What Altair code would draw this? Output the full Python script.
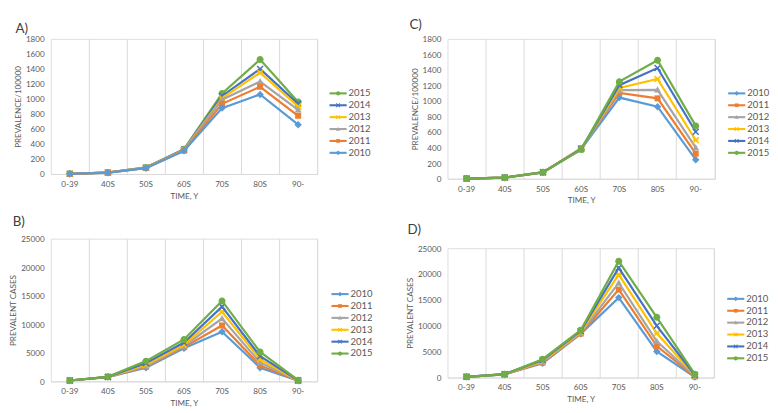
import altair as alt
import pandas as pd

cats = ["0-39", "40S", "50S", "60S", "70S", "80S", "90-"]
years = ["2010", "2011", "2012", "2013", "2014", "2015"]
colors = ["#5B9BD5", "#ED7D31", "#A5A5A5", "#FFC000", "#4472C4", "#70AD47"]

# Panel A: prevalence per 100000
a_2010 = [2, 18, 78, 308, 878, 1060, 657]
a_2011 = [2, 18, 80, 312, 935, 1162, 776]
a_2012 = [2, 19, 82, 316, 990, 1232, 855]
a_2013 = [2, 19, 84, 320, 1010, 1350, 900]
a_2014 = [2, 20, 86, 325, 1040, 1400, 935]
a_2015 = [2, 20, 88, 330, 1072, 1525, 960]

# Panel C: prevalence per 100000
c_2010 = [2, 14, 80, 380, 1045, 928, 245]
c_2011 = [2, 14, 82, 395, 1105, 1035, 322]
c_2012 = [2, 15, 82, 388, 1140, 1145, 400]
c_2013 = [2, 15, 83, 385, 1170, 1285, 495]
c_2014 = [2, 15, 84, 380, 1205, 1425, 605]
c_2015 = [2, 15, 85, 375, 1250, 1525, 680]

# Panel B: prevalent cases
b_2010 = [150, 750, 2400, 5800, 8700, 2400, 100]
b_2011 = [150, 760, 2550, 6000, 9800, 2800, 120]
b_2012 = [150, 770, 2700, 6200, 11000, 3300, 140]
b_2013 = [150, 780, 2900, 6400, 12200, 3850, 160]
b_2014 = [150, 790, 3200, 6800, 13100, 4400, 180]
b_2015 = [150, 800, 3550, 7350, 14100, 5150, 200]

# Panel D: prevalent cases
d_2010 = [150, 600, 2750, 8450, 15450, 5050, 100]
d_2011 = [150, 620, 2900, 8500, 17000, 6100, 200]
d_2012 = [150, 630, 3050, 8600, 18300, 7000, 300]
d_2013 = [150, 640, 3200, 8800, 19900, 8550, 400]
d_2014 = [150, 650, 3400, 9000, 21200, 10000, 500]
d_2015 = [150, 660, 3550, 9150, 22500, 11650, 650]

# marker shapes (unit square paths)
CIRCLE = "M-0.7,0A0.7,0.7 0 1 1 0.7,0A0.7,0.7 0 1 1 -0.7,0Z"
DIAMOND = "M0,-0.75L0.75,0L0,0.75L-0.75,0Z"
SQUARE = "M-0.6,-0.6H0.6V0.6H-0.6Z"
TRIANGLE = "M0,-0.7L0.7,0.55H-0.7Z"
XMARK = ("M-0.494,-0.706L0.706,0.494L0.494,0.706L-0.706,-0.494Z"
         "M0.706,-0.494L-0.494,0.706L-0.706,0.494L0.494,-0.706Z")
STAR = XMARK + "M-0.6,-0.1H0.6V0.1H-0.6Z"
markers = [DIAMOND, SQUARE, TRIANGLE, STAR, XMARK, CIRCLE]

FONT = "Lato"
GRAY = "#595959"


def make_df(series):
    rows = []
    for yr, vals in zip(years, series):
        for c, v in zip(cats, vals):
            rows.append({"age": c, "year": yr, "value": v})
    return pd.DataFrame(rows)


def panel(series, label, ytitle, ymax, ystep, reverse, w, h, lx, ly, legx, legy0):
    df = make_df(series)
    base = alt.Chart(df)
    xscale = alt.Scale(type="band", domain=cats, paddingInner=0, paddingOuter=0)
    yenc = alt.Y(
        "value:Q",
        scale=alt.Scale(domain=[0, ymax], nice=False, zero=True),
        axis=alt.Axis(
            values=list(range(0, ymax + 1, ystep)), format="d", grid=False, domain=False,
            ticks=False, labelFont=FONT, labelFontSize=8.5, labelColor=GRAY, labelPadding=7,
            title=ytitle, titleFont=FONT, titleFontSize=8.5, titleFontWeight="normal",
            titleColor=GRAY, titlePadding=3,
        ),
    )
    grid_axis = alt.Axis(
        orient="bottom", bandPosition=1, labels=False, ticks=False, domain=True,
        domainColor="#D9D9D9", grid=True, gridColor="#D9D9D9", gridWidth=1, title=None,
    )
    label_axis = alt.Axis(
        orient="bottom", bandPosition=0.5, labels=True, ticks=False, domain=False, grid=False,
        labelFont=FONT, labelFontSize=8.5, labelColor=GRAY, labelPadding=6, labelAngle=0,
        title="TIME, Y", titleFont=FONT, titleFontSize=8.5, titleFontWeight="normal",
        titleColor=GRAY, titlePadding=4,
    )
    order = list(range(len(years)))
    draw_order = order[::-1] if reverse else order
    layers = []
    first = True
    for i in draw_order:
        yr = years[i]
        sub = base.transform_filter(alt.datum.year == yr)
        xl = alt.X("age:N", scale=xscale, bandPosition=0.5, axis=grid_axis if first else None)
        xp = alt.X("age:N", scale=xscale, bandPosition=0.5, axis=label_axis if first else None)
        layers.append(sub.mark_line(color=colors[i], strokeWidth=2.3).encode(x=xl, y=yenc))
        layers.append(sub.mark_point(shape=markers[i], filled=True, size=110, opacity=1,
                                     color=colors[i]).encode(x=xp, y=yenc))
        first = False
    plot = alt.layer(*layers).resolve_axis(x="independent")

    # legend built from marks
    leg_dom = [years[i] for i in draw_order]
    leg_col = [colors[i] for i in draw_order]
    leg_shp = [markers[i] for i in draw_order]
    ldf = pd.DataFrame({"year": leg_dom})
    lbase = alt.Chart(ldf)
    ly_enc = alt.Y("year:N", scale=alt.Scale(type="point", domain=leg_dom,
                                             range=[legy0, legy0 + 75]), axis=None)
    lcol = alt.Color("year:N", scale=alt.Scale(domain=leg_dom, range=leg_col), legend=None)
    lshp = alt.Shape("year:N", scale=alt.Scale(domain=leg_dom, range=leg_shp), legend=None)
    lrule = lbase.mark_rule(strokeWidth=2.2).encode(
        x=alt.value(legx), x2=alt.value(legx + 18), y=ly_enc, color=lcol)
    lpt = lbase.mark_point(filled=True, size=42, opacity=1).encode(
        x=alt.value(legx + 9), y=ly_enc, color=lcol, shape=lshp)
    ltxt = lbase.mark_text(align="left", baseline="middle", fontSize=10, font=FONT,
                           color=GRAY).encode(x=alt.value(legx + 20), y=ly_enc, text="year:N")
    tag = alt.Chart(pd.DataFrame({"tag": [label]})).mark_text(
        align="left", baseline="top", fontSize=14, font=FONT, color="#404040"
    ).encode(text="tag:N", x=alt.value(lx), y=alt.value(ly))
    legend = alt.layer(lrule, lpt, ltxt, tag)
    return alt.layer(plot, legend).resolve_scale(
        y="independent", color="independent", shape="independent"
    ).properties(width=w, height=h)


pA = panel([a_2010, a_2011, a_2012, a_2013, a_2014, a_2015], "A)", "PREVALENCE/100000",
           1800, 200, True, 280, 142, -37, -17, 293, 51)
pB = panel([b_2010, b_2011, b_2012, b_2013, b_2014, b_2015], "B)", "PREVALENT CASES",
           25000, 5000, False, 280, 150, -40, -24, 295, 52)
pC = panel([c_2010, c_2011, c_2012, c_2013, c_2014, c_2015], "C)", "PREVALENCE/100000",
           1800, 200, False, 281, 147, -40, -21, 295, 51)
pD = panel([d_2010, d_2011, d_2012, d_2013, d_2014, d_2015], "D)", "PREVALENT CASES",
           25000, 5000, False, 280, 136, -42, -26, 294, 47)

left = alt.vconcat(pA, pB, spacing=15)
right = alt.vconcat(pC, pD, spacing=18)
chart = alt.hconcat(left, right, spacing=33).properties(
    padding={"left": 0, "top": 0, "right": 0, "bottom": 0}
).configure_view(stroke=None).configure(background="white")

chart.save("out.html", embed_options={"renderer": "svg", "actions": False})
